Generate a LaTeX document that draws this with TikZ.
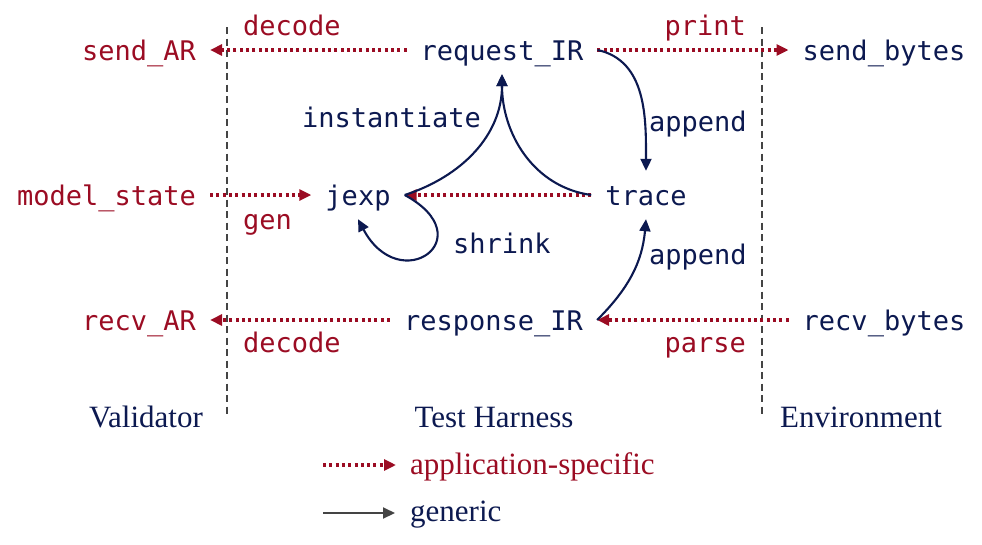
\documentclass[tikz,border=0pt]{standalone}
\usepackage{fontspec}
\setmainfont{Liberation Serif}
\setmonofont{DejaVu Sans Mono}
\usetikzlibrary{arrows.meta}
\definecolor{appred}{RGB}{155,12,35}
\definecolor{navy}{RGB}{12,25,80}
\definecolor{lgray}{RGB}{68,68,68}
\tikzset{
  mono/.style={font=\ttfamily\fontsize{27}{30}\selectfont, text height=21pt, text depth=1pt, inner xsep=14pt, inner ysep=13pt},
  rednode/.style={mono, text=appred},
  bluenode/.style={mono, text=navy},
  redlabel/.style={font=\ttfamily\fontsize{27}{30}\selectfont, text=appred, inner sep=0pt},
  bluelabel/.style={font=\ttfamily\fontsize{27}{30}\selectfont, text=navy, inner sep=0pt},
  section/.style={font=\fontsize{31}{36}\selectfont, text=navy, inner sep=0pt},
  appflow/.style={draw=appred, line width=3.2pt, dash pattern=on 3pt off 3.3pt, -{Triangle[length=12pt,width=11pt]}},
  genflow/.style={draw=navy, line width=2.1pt, -{Triangle[length=12pt,width=11pt]}},
  border/.style={draw=lgray, line width=1.8pt, dash pattern=on 7pt off 4.5pt},
}
\begin{document}
\begin{tikzpicture}[x=1pt,y=1pt]
\useasboundingbox (0,0) rectangle (982,-544);
% nodes
\node[rednode]  (sendAR)   at (139,-50)  {send\_AR};
\node[bluenode] (reqIR)    at (502,-50)  {request\_IR};
\node[bluenode] (sendB)    at (884,-50)  {send\_bytes};
\node[rednode]  (model)    at (106.5,-195) {model\_state};
\node[bluenode] (jexp)     at (358,-195) {jexp};
\node[bluenode] (trace)    at (646,-195) {trace};
\node[rednode]  (recvAR)   at (139,-320) {recv\_AR};
\node[bluenode] (respIR)   at (493.5,-320) {response\_IR};
\node[bluenode] (recvB)    at (884,-320) {recv\_bytes};
% section labels
\node[section, anchor=base] (val) at (146,-427) {Validator};
\node[section, anchor=base] (th)  at (494,-427) {Test Harness};
\node[section, anchor=base] (env) at (861,-427) {Environment};
% borders
\coordinate (b1t) at (227,-27);
\coordinate (b1b) at (227,-418);
\coordinate (b2t) at (762,-27);
\coordinate (b2b) at (762,-418);
\draw[border] (b1t) -- (b1b);
\draw[border] (b2t) -- (b2b);
% application-specific flows
\draw[appflow] (reqIR) -- (sendAR);
\draw[appflow] (reqIR) -- (sendB);
\draw[appflow] (model) -- (jexp);
\draw[appflow] (trace) -- (jexp);
\draw[appflow] (recvB) -- (respIR);
\draw[appflow] (respIR) -- (recvAR);
% generic flows
\draw[genflow] (jexp.east) to[out=18, in=-90] (reqIR.south);
\draw[genflow] (trace.west) to[out=172, in=-90] (reqIR.south);
\draw[genflow] (reqIR.east) to[out=-12, in=90] (trace.north);
\draw[genflow] (respIR.east) to[out=45, in=-95] (trace.south);
\draw[genflow] (jexp.east) .. controls (484,-238) and (400,-298) .. (jexp.south);
% edge labels
\node[redlabel,  anchor=base west] (lDec1)  at (243,-35)  {decode};
\node[redlabel,  anchor=base east] (lPrint) at (746,-35)  {print};
\node[bluelabel, anchor=base west] (lInst)  at (302,-127) {instantiate};
\node[bluelabel, anchor=base west] (lApp1)  at (649,-131) {append};
\node[redlabel,  anchor=base west] (lGen)   at (243,-229) {gen};
\node[bluelabel, anchor=base west] (lShr)   at (453,-253) {shrink};
\node[bluelabel, anchor=base west] (lApp2)  at (649,-264) {append};
\node[redlabel,  anchor=base west] (lDec2)  at (243,-352) {decode};
\node[redlabel,  anchor=base east] (lParse) at (746,-352) {parse};
% legend
\coordinate (la1) at (323,-465);
\coordinate (la2) at (396,-465);
\coordinate (lg1) at (323,-513);
\coordinate (lg2) at (395,-513);
\draw[appflow] (la1) -- (la2);
\draw[draw=lgray, line width=2.1pt, -{Triangle[length=12pt,width=11pt]}] (lg1) -- (lg2);
\node[section, text=appred, anchor=base west] (legA) at (410,-474) {application-specific};
\node[section, anchor=base west] (legG) at (410,-521) {generic};
\end{tikzpicture}
\end{document}
